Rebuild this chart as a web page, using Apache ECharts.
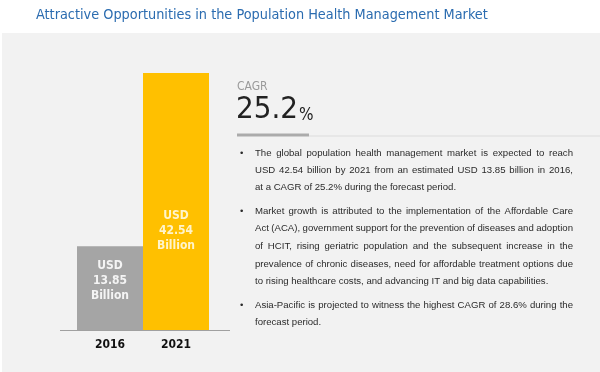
<!DOCTYPE html>
<html><head><meta charset="utf-8">
<script src="https://cdn.jsdelivr.net/npm/echarts@6/dist/echarts.min.js"></script>
<style>html,body{margin:0;padding:0;background:#fff}#c{width:600px;height:372px}</style>
</head><body><div id="c"></div>
<script>
const titleText = 'Attractive Opportunities in the Population Health Management Market';
const categories = ['2016', '2021'];
const values = [13.85, 42.54];
const barColors = ['#a5a5a5', '#ffc000'];
const barLabels = ['USD\n13.85\nBillion', 'USD\n42.54\nBillion'];
const cagrLabel = 'CAGR';
const cagrValue = '25.2';
const bullets = [
  ['The global population health management market is expected to reach',
   'USD 42.54 billion by 2021 from an estimated USD 13.85 billion in 2016,',
   'at a CAGR of 25.2% during the forecast period.'],
  ['Market growth is attributed to the implementation of the Affordable Care',
   'Act (ACA), government support for the prevention of diseases and adoption',
   'of HCIT, rising geriatric population and the subsequent increase in the',
   'prevalence of chronic diseases, need for affordable treatment options due',
   'to rising healthcare costs, and advancing IT and big data capabilities.'],
  ['Asia-Pacific is projected to witness the highest CAGR of 28.6% during the',
   'forecast period.']
];

const ctx = document.createElement('canvas').getContext('2d');
function w(font, s) { ctx.font = font; return ctx.measureText(s).width; }
const probe = 'Attractive Opportunities 0123456789 Mmwi';
function available(name) {
  return ['monospace', 'serif'].some(fb => Math.abs(w('20px "' + name + '", ' + fb, probe) - w('20px ' + fb, probe)) > 0.5);
}
const condCandidates = ['Liberation Sans Narrow', 'DejaVu Sans Condensed', 'Roboto Condensed', 'Open Sans Condensed', 'Arial Narrow'];
let condName = condCandidates.find(available) || 'Liberation Sans';
const COND = '"' + condName + '", "Liberation Sans", sans-serif';

const titleSize = Math.min(19, 18 * 452 / w('18px ' + COND, titleText));
const bigSize = Math.min(34, 34 * 62 / w('34px ' + COND, cagrValue));
const lblSize = 12;

const chart = echarts.init(document.getElementById('c'), null, {renderer: 'canvas'});
const bodyFont = '9.6px "Liberation Sans", Arial, sans-serif';

const graphics = [];
graphics.push({type: 'rect', z: -10, shape: {x: 2, y: 33, width: 598, height: 339}, style: {fill: '#f2f2f2'}});
graphics.push({type: 'line', shape: {x1: 60, y1: 330.5, x2: 230, y2: 330.5}, style: {stroke: '#a0a0a0', lineWidth: 1}});
graphics.push({type: 'text', style: {text: cagrLabel, x: 237, y: 87, fill: '#9a9a9a', font: '12px ' + COND, verticalAlign: 'middle'}});
const bigFont = bigSize.toFixed(2) + 'px ' + COND;
graphics.push({type: 'text', style: {text: cagrValue, x: 236, y: 110, fill: '#222', font: bigFont, verticalAlign: 'middle'}});
const bigW = w(bigFont, cagrValue);
graphics.push({type: 'text', style: {text: '%', x: 237 + bigW, y: 116, fill: '#222', font: (bigSize * 0.55).toFixed(2) + 'px ' + COND, verticalAlign: 'middle'}});
graphics.push({type: 'rect', shape: {x: 237, y: 133.5, width: 72, height: 3}, style: {fill: '#ababab'}});
graphics.push({type: 'line', shape: {x1: 309, y1: 136, x2: 600, y2: 136}, style: {stroke: '#dcdcdc', lineWidth: 1}});

const lineYs = [[153.3, 170.7, 187.7], [211, 228.7, 246.3, 264, 281.7], [305, 322.7]];
const x0 = 255, target = 318;
bullets.forEach((para, pi) => {
  graphics.push({type: 'text', style: {text: '•', x: 240, y: lineYs[pi][0], fill: '#2b2b2b', font: bodyFont, verticalAlign: 'middle'}});
  para.forEach((line, li) => {
    const y = lineYs[pi][li];
    const last = li === para.length - 1;
    const words = line.split(' ');
    if (last || words.length < 2) {
      graphics.push({type: 'text', style: {text: line, x: x0, y: y, fill: '#2b2b2b', font: bodyFont, verticalAlign: 'middle'}});
      return;
    }
    const widths = words.map(s => w(bodyFont, s));
    const total = widths.reduce((a, b) => a + b, 0);
    const gap = (target - total) / (words.length - 1);
    let x = x0;
    words.forEach((s, wi) => {
      graphics.push({type: 'text', style: {text: s, x: x, y: y, fill: '#2b2b2b', font: bodyFont, verticalAlign: 'middle'}});
      x += widths[wi] + gap;
    });
  });
});

const labelOffsets = [[0, -7], [0, 29.5]];
const labelColors = ['#f4f4f4', '#fff4cc'];

chart.setOption({
  animation: false,
  backgroundColor: '#ffffff',
  title: {
    text: titleText, left: 36, top: 8, padding: 0,
    textStyle: {color: '#2b6cb0', fontSize: titleSize, fontWeight: 'normal', fontFamily: COND}
  },
  grid: {left: 77, width: 132, top: 73, bottom: 42},
  xAxis: {
    type: 'category', data: categories,
    axisLine: {show: false}, axisTick: {show: false},
    axisLabel: {color: '#111', fontWeight: 'bold', fontSize: 12, margin: 9, fontFamily: COND}
  },
  yAxis: {type: 'value', min: 0, max: 'dataMax', show: false, splitLine: {show: false}},
  graphic: graphics,
  series: [{
    type: 'bar', barWidth: '100%', barCategoryGap: 0,
    data: values.map((v, i) => ({
      value: v,
      itemStyle: {color: barColors[i]},
      label: {
        show: true, position: 'inside', offset: labelOffsets[i],
        formatter: barLabels[i], color: labelColors[i], fontWeight: 'bold', fontSize: lblSize, lineHeight: 15,
        fontFamily: COND
      }
    }))
  }]
});
</script></body></html>
